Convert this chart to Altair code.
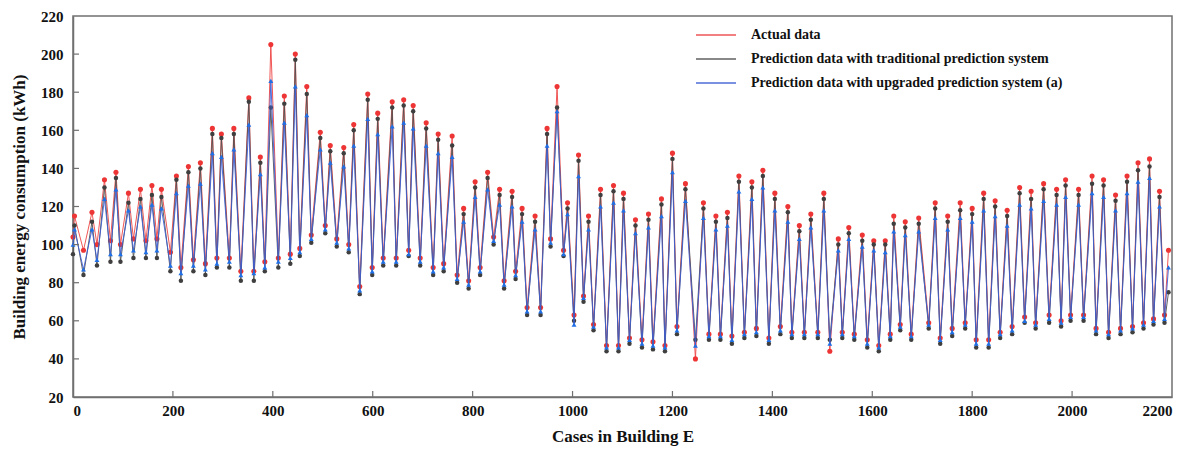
import altair as alt
import pandas as pd

# ---- data (peaks / troughs of the daily cycles) ----
cases = [0, 3, 21, 38, 48, 63, 75, 86, 95, 111, 121, 135, 146, 158, 168, 177, 195, 207, 216,
         231, 241, 255, 265, 279, 288, 297, 313, 322, 336, 352, 362, 375, 384, 396, 411, 423, 435, 445,
         454, 468, 477, 495, 505, 515, 528, 542, 552, 562, 574, 590, 599, 610, 621, 639, 647, 662,
         672, 681, 695, 707, 721, 731, 742, 759, 769, 782, 792, 805, 815, 830, 842, 854, 863, 879, 886,
         899, 909, 925, 936, 949, 956, 969, 982, 990, 1003, 1012, 1022, 1032, 1042, 1056, 1068, 1082, 1092, 1102,
         1114, 1126, 1139, 1152, 1161, 1178, 1185, 1200, 1209, 1226, 1246, 1262, 1273, 1287, 1296, 1310, 1319,
         1333, 1344, 1359, 1368, 1381, 1393, 1405, 1416, 1431, 1439, 1454, 1464, 1477, 1491, 1503, 1515, 1532, 1540,
         1553, 1564, 1580, 1590, 1603, 1613, 1626, 1636, 1643, 1656, 1666, 1678, 1693, 1713, 1726, 1736, 1751, 1760,
         1776, 1786, 1800, 1808, 1823, 1833, 1846, 1856, 1870, 1880, 1895, 1905, 1918, 1927, 1943, 1954, 1969, 1978, 1987,
         1997, 2013, 2023, 2040, 2048, 2063, 2073, 2087, 2097, 2110, 2121, 2132, 2143, 2155, 2163, 2175, 2185, 2193]

actual = [104, 115, 97, 117, 100, 134, 102, 138, 100, 127, 103, 129, 102, 131, 103, 129, 96, 136, 88,
          141, 92, 143, 90, 161, 93, 158, 93, 161, 86, 177, 86, 146, 91, 205, 93, 178, 95, 200,
          98, 183, 105, 159, 110, 152, 103, 151, 100, 163, 78, 179, 88, 169, 93, 175, 93, 176,
          97, 173, 93, 164, 88, 158, 90, 157, 84, 119, 81, 133, 88, 138, 104, 129, 81, 128, 86,
          119, 67, 115, 67, 161, 103, 183, 97, 122, 63, 147, 73, 115, 58, 129, 47, 131, 47, 127,
          51, 113, 50, 116, 49, 124, 47, 148, 57, 132, 40, 122, 53, 115, 53, 117, 52,
          136, 54, 133, 56, 139, 51, 127, 57, 120, 54, 110, 54, 116, 54, 127, 44, 103, 54,
          109, 53, 105, 50, 102, 47, 102, 53, 115, 58, 112, 53, 114, 59, 122, 51, 115, 56,
          122, 59, 119, 50, 127, 50, 123, 54, 118, 57, 130, 62, 128, 59, 132, 63, 129, 60, 134,
          63, 129, 63, 136, 56, 134, 54, 126, 56, 136, 57, 143, 59, 145, 61, 128, 63, 97]

traditional = [95, 110, 84, 112, 89, 130, 91, 135, 91, 122, 93, 124, 93, 126, 93, 125, 86, 134, 81,
               138, 86, 140, 84, 158, 88, 156, 88, 158, 81, 175, 81, 143, 86, 172, 88, 174, 90, 197,
               94, 179, 101, 156, 106, 149, 99, 148, 96, 160, 74, 176, 84, 166, 89, 172, 89, 173,
               94, 170, 89, 161, 84, 155, 86, 152, 80, 116, 77, 130, 84, 135, 100, 126, 77, 125, 82,
               116, 63, 112, 63, 158, 99, 172, 94, 119, 60, 144, 70, 112, 55, 126, 44, 128, 44, 124,
               48, 110, 46, 113, 45, 121, 44, 145, 53, 129, 50, 119, 50, 112, 50, 114, 48,
               133, 51, 130, 52, 136, 48, 124, 53, 117, 51, 107, 51, 113, 51, 124, 50, 100, 51,
               106, 50, 102, 46, 100, 44, 100, 50, 111, 55, 109, 50, 111, 56, 119, 48, 112, 52,
               118, 56, 116, 46, 124, 46, 120, 51, 115, 53, 127, 59, 124, 56, 129, 59, 126, 57, 131,
               60, 126, 60, 132, 53, 131, 51, 123, 53, 133, 54, 139, 56, 141, 58, 125, 59, 75]

upgraded = [100, 108, 87, 108, 92, 124, 95, 129, 95, 118, 97, 120, 96, 121, 97, 119, 89, 127, 85,
            131, 89, 132, 87, 148, 90, 146, 91, 150, 84, 163, 85, 137, 88, 186, 91, 164, 93, 183,
            96, 168, 103, 150, 108, 143, 101, 141, 98, 152, 76, 166, 86, 158, 91, 162, 91, 164,
            95, 161, 91, 152, 86, 148, 88, 146, 82, 112, 79, 125, 86, 129, 102, 121, 79, 120, 84,
            112, 65, 108, 65, 152, 101, 170, 95, 116, 58, 136, 72, 108, 57, 120, 46, 122, 46, 118,
            50, 106, 48, 109, 47, 115, 46, 138, 55, 123, 47, 114, 52, 108, 52, 110, 50,
            128, 53, 124, 54, 130, 50, 118, 55, 112, 53, 103, 53, 109, 53, 118, 48, 97, 53,
            103, 52, 99, 48, 97, 46, 96, 52, 107, 57, 105, 52, 107, 58, 114, 50, 108, 54,
            114, 58, 112, 48, 118, 48, 115, 53, 110, 55, 121, 60, 119, 58, 123, 61, 121, 59, 125,
            62, 121, 62, 127, 55, 125, 53, 118, 55, 127, 56, 133, 58, 135, 60, 120, 61, 88]

series_names = ["Actual data",
                "Prediction data with traditional prediction system",
                "Prediction data with upgraded prediction system (a)"]
line_colors = ["#ee4444", "#505050", "#3d5fd6"]
point_colors = ["#ee3535", "#3f3f3f", "#1f6fe6"]
point_shapes = ["circle", "circle", "triangle-up"]
point_sizes = [26, 20, 24]

x_ticks = list(range(0, 2201, 200))
y_ticks = list(range(20, 221, 20))

rows = []
for name, vals in zip(series_names, [actual, traditional, upgraded]):
    for c, v in zip(cases, vals):
        rows.append({"case": c, "value": v, "series": name})
df = pd.DataFrame(rows)

W, H = 1099, 381
FONT = "Liberation Serif"
xscale = alt.Scale(domain=[0, 2200], nice=False, zero=False)
yscale = alt.Scale(domain=[20, 220], nice=False, zero=False)

x_axis = alt.Axis(values=x_ticks, format="d", title="Cases in Building E", ticks=False,
                  labelPadding=6, titlePadding=10)
y_axis = alt.Axis(values=y_ticks, format="d", title="Building energy consumption (kWh)", ticks=False,
                  labelPadding=10, titlePadding=12)

color_scale = alt.Scale(domain=series_names, range=line_colors)
legend = alt.Legend(title=None, orient="none", legendX=636, legendY=12,
                    symbolType="M-4,0L4,0", symbolSize=100, symbolStrokeWidth=1.5,
                    labelFont=FONT, labelFontSize=14, labelFontWeight="bold", labelColor="#111111",
                    labelOffset=28, labelLimit=600, rowPadding=10)

base = alt.Chart(df)
layers = []
for i, name in enumerate(series_names):
    sub = base.transform_filter(alt.datum.series == name)
    line = sub.mark_line(strokeWidth=1, opacity=0.9).encode(
        x=alt.X("case:Q", scale=xscale, axis=x_axis),
        y=alt.Y("value:Q", scale=yscale, axis=y_axis),
        color=alt.Color("series:N", scale=color_scale, legend=legend),
    )
    pts = sub.mark_point(filled=True, size=point_sizes[i], shape=point_shapes[i], color=point_colors[i],
                         opacity=1, strokeWidth=0).encode(
        x=alt.X("case:Q", scale=xscale, axis=x_axis),
        y=alt.Y("value:Q", scale=yscale, axis=y_axis),
    )
    layers += [line, pts]

# inward tick marks
ytick_df = pd.DataFrame({"value": y_ticks[1:-1]})
xtick_df = pd.DataFrame({"case": x_ticks[1:-1]})
ytk = alt.Chart(ytick_df).mark_rule(color="#707070", strokeWidth=1.2).encode(
    y=alt.Y("value:Q", scale=yscale, axis=y_axis), x=alt.value(0), x2=alt.value(6))
xtk = alt.Chart(xtick_df).mark_rule(color="#707070", strokeWidth=1.2).encode(
    x=alt.X("case:Q", scale=xscale, axis=x_axis), y=alt.value(H), y2=alt.value(H - 6))
layers += [ytk, xtk]

chart = alt.layer(*layers).properties(
    width=W, height=H,
    padding={"left": 73, "top": 16, "right": 30, "bottom": 53},
    autosize=alt.AutoSizeParams(type="none"),
    background="white",
).configure_view(stroke="#707070", strokeWidth=1.5).configure_axis(
    labelFont=FONT, labelFontSize=15, labelFontWeight="bold", labelColor="#111111",
    titleFont=FONT, titleFontSize=17, titleFontWeight="bold", titleColor="#111111",
    domainColor="#707070", domainWidth=1.5, grid=False,
)

chart.save("out.html", embed_options={"renderer": "svg", "actions": False})
